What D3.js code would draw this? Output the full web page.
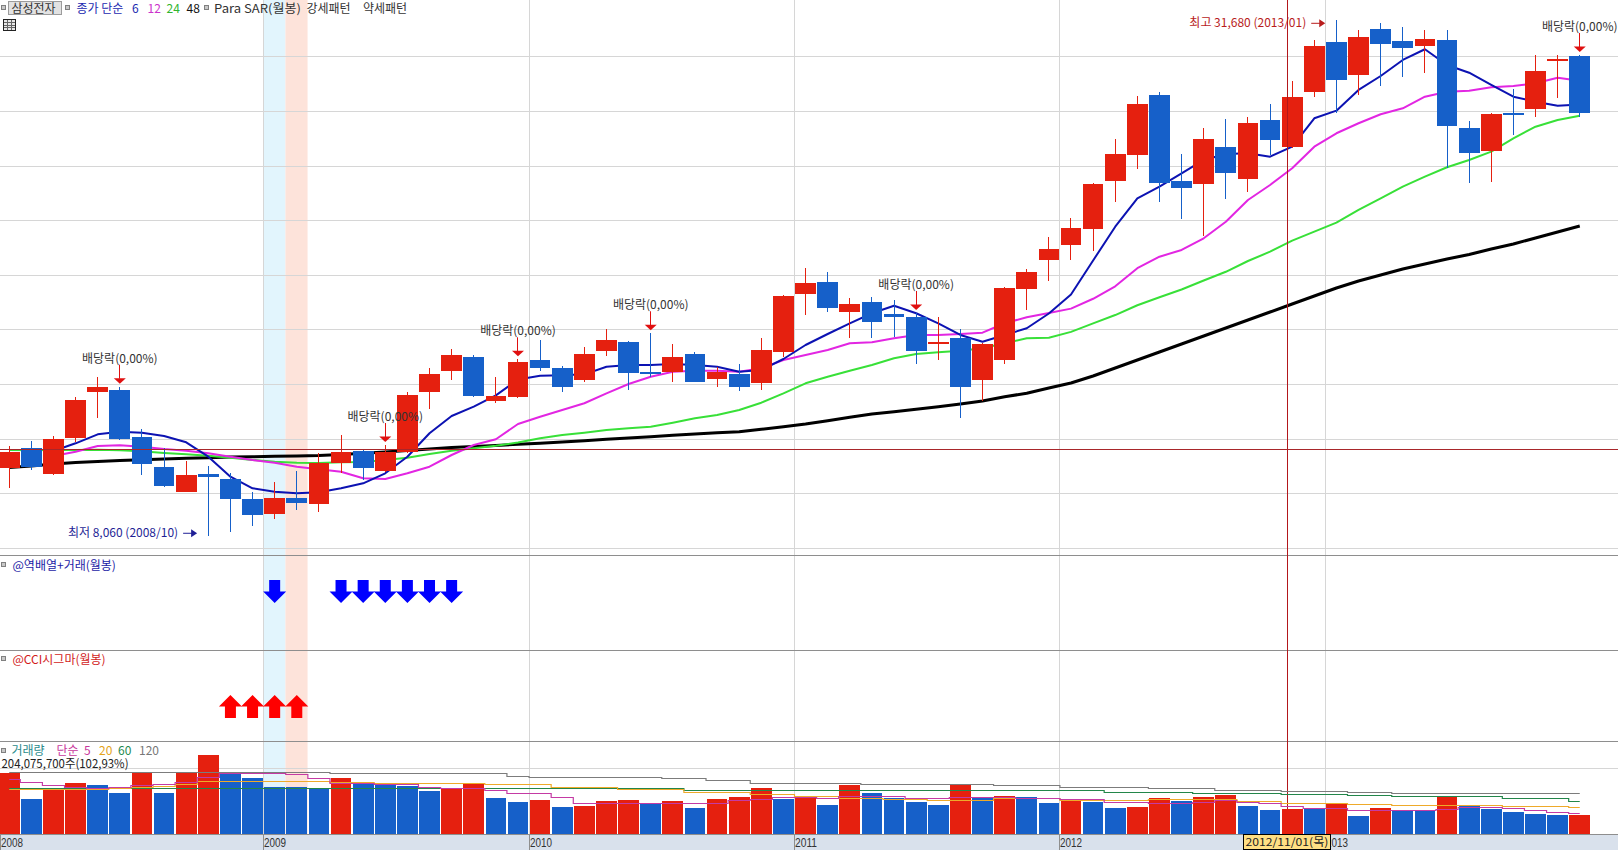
<!DOCTYPE html>
<html><head><meta charset="utf-8">
<script src="https://cdn.jsdelivr.net/npm/d3@7"></script>
<style>
body{margin:0;background:#fff;overflow:hidden}
svg{display:block}
text{font-family:"Noto Sans CJK KR","Noto Sans",sans-serif;font-size:12px}
</style>
</head><body>
<svg id="c" width="1618" height="850"></svg>
<script>
// ---------------- DATA ----------------
const years = [2008, 2009, 2010, 2011, 2012, 2013];
const months = years.flatMap(yr => d3.range(1, 13).map(m => yr + "/" + String(m).padStart(2, "0")));
const yearTicks = ["2008", "2009", "2010", "2011", "2012", "2013"];
const priceTicks = [7500, 10000, 12500, 15000, 17500, 20000, 22500, 25000, 27500, 30000];

const open  = [11167,12056,10893,12541,14647,14725,12587,11199,10069,10879,10650,9734,
               9062,9780,9519,11396,11932,11030,11872,14647,15608,16235,14235,14418,
               16098,15718,15182,16524,16908,15562,15562,16373,15228,15457,15059,16478,
               19106,19669,18282,18753,18204,18080,16830,17119,15182,16098,19362,20676,
               21376,22109,24306,25497,28230,24293,24169,25863,24398,27085,25863,28381,
               30656,29145,31251,30702,30487,30748,26733,25680,27374,27603,29786,30015];
const high  = [12161,12390,12619,14418,15333,14876,12939,12056,11474,11245,10911,10041,
               10513,11030,11827,12664,12023,12206,14619,15718,16601,16327,15306,16130,
               17013,15823,16707,17517,16945,17320,16830,16451,15791,15915,17091,19074,
               20296,20113,18922,18969,18845,18250,18053,17517,16876,19454,20250,21729,
               22599,24215,26215,28184,28367,25529,26733,27131,27237,27818,28871,30748,
               31680,31206,31512,31357,31206,31206,27053,27392,28491,30061,30061,30061];
const low   = [10224,11062,10833,12358,13456,12435,10833,10270,10041,8060,8237,8512,
               8805,9231,9126,10911,10604,10985,11827,13841,15182,14404,14143,14358,
               15608,14647,15105,16281,14725,15306,15105,15077,14876,14692,14725,16249,
               18158,18282,17091,17091,17165,15901,16098,13456,14221,15915,18387,19728,
               20676,21101,23317,24828,23317,22553,21788,23455,23803,25483,25790,28152,
               27392,28230,28641,29068,29223,24901,24187,24261,26398,27209,28106,27209];
const close = [11900,11213,12481,14267,14862,12481,11323,10343,10833,10728,9721,9016,
               9780,9565,11369,11872,11167,11872,14496,15457,16327,14450,14464,16020,
               15718,14876,16373,17013,15516,15457,16249,15105,15562,14876,16556,19028,
               19609,18465,18648,17851,18053,16524,16936,14876,16830,19408,20127,21193,
               22141,24169,25529,27818,24215,23986,26215,24645,26948,26169,28138,30473,
               28916,30898,30551,30395,30794,26824,25588,27360,27314,29328,29878,27420];

const ma6  = [null,null,11932,12284,12696,12815,12770,12619,12330,11671,10755,10224,
              10069,9995,10041,10224,10453,10911,11671,12742,13534,13960,14480,15200,
              15380,15400,15440,15791,15869,15869,15915,15869,15791,15562,15640,16144,
              16785,17288,17778,18236,18584,18236,17778,17243,16936,17243,17549,18227,
              19097,20653,22200,23500,24031,24645,25254,25529,25560,25405,25863,27163,
              27511,28459,29099,29832,30322,29603,29250,28687,28152,27923,27740,27795];
const ma12 = [null,null,11703,11900,12161,12193,12129,12023,11946,11827,11671,11520,
              11396,11213,11094,10984,10682,10650,10911,11213,11749,12207,12468,13168,
              13502,13809,14116,14573,14999,15333,15562,15608,15608,15562,15718,16098,
              16327,16556,16862,16908,17091,17242,17242,17288,17348,17778,18053,18250,
              18450,18900,19470,20300,20827,21134,21669,22429,23423,24109,24874,25863,
              26476,26934,27346,27621,28152,28381,28426,28582,28642,28765,29022,28884];
const ma24 = [11978,11964,11978,11978,11991,11964,11918,11840,11781,11717,11625,11520,
              11442,11396,11383,11415,11428,11520,11625,11795,11946,12056,12175,12321,
              12513,12664,12770,12893,12971,13044,13227,13429,13580,13809,14143,14573,
              15031,15333,15608,15869,16176,16373,16450,16524,16634,16862,17091,17119,
              17386,17774,18155,18605,18968,19323,19738,20136,20630,21056,21559,21971,
              22384,22965,23500,24032,24489,24920,25254,25634,26247,26778,27085,27282];
const ma48 = [11177,11245,11337,11405,11451,11497,11534,11566,11598,11625,11657,11671,
              11689,11703,11726,11772,11827,11886,11955,12023,12092,12138,12184,12239,
              12284,12344,12403,12468,12527,12587,12651,12710,12770,12815,12925,13044,
              13168,13319,13475,13626,13731,13841,13960,14084,14221,14418,14573,14816,
              15045,15365,15732,16098,16464,16830,17197,17563,17929,18295,18662,19028,
              19394,19714,19989,20264,20493,20722,20928,21179,21408,21683,21958,22232];

// volume in millions of shares
const volume = [655,373,494,548,523,440,655,440,666,845,659,598,
                505,503,480,598,534,523,515,459,491,534,383,340,
                362,287,297,351,362,316,351,276,373,394,491,376,
                405,308,523,440,383,340,308,526,391,405,397,333,
                354,344,279,290,380,351,397,416,297,255,265,263,
                319,190,273,247,246,397,297,265,236,212,198,204.08];
const volMa5   = [584,555,518,505,488,502,518,531,558,612,655,655,
                  655,641,595,548,548,534,534,505,494,494,469,440,
                  440,397,333,333,333,326,326,333,333,362,373,391,
                  391,380,405,405,405,380,380,391,391,391,380,380,
                  369,369,344,344,333,333,344,362,344,333,297,273,
                  273,255,255,255,255,262,284,284,273,255,233,219];
const volMa20  = [480,480,477,480,480,491,502,512,531,566,566,566,
                  566,566,561,555,555,545,545,541,541,541,539,534,
                  534,505,505,505,477,477,477,451,451,451,426,426,
                  405,405,380,380,369,369,362,362,362,380,380,380,
                  362,362,362,362,369,369,369,369,351,351,333,333,
                  333,319,319,308,308,308,308,308,297,297,297,284];
const volMa60  = [488,488,488,488,488,488,488,488,488,488,488,488,
                  488,488,488,488,488,488,488,488,488,488,488,488,
                  488,488,488,488,488,488,488,469,469,469,469,469,
                  469,469,469,469,469,469,469,469,469,469,469,469,
                  469,469,451,451,451,451,440,440,440,440,426,426,
                  426,416,416,405,405,405,405,405,383,383,383,354];
const volMa120 = [666,666,666,666,666,666,666,666,666,666,666,666,
                  666,666,666,649,649,649,649,649,649,649,649,625,
                  612,612,612,606,606,606,595,595,574,574,548,548,
                  541,541,541,534,534,534,534,534,534,523,523,523,
                  505,505,505,505,488,488,488,469,469,469,459,459,
                  459,448,448,440,440,440,440,440,434,434,434,434];

const dividendMonths = ["2008/06","2009/06","2009/12","2010/06","2011/06","2013/12"];
const downSignals = ["2009/01","2009/04","2009/05","2009/06","2009/07","2009/08","2009/09"];
const upSignals = ["2008/11","2008/12","2009/01","2009/02"];
const strongBand = "2009/01", weakBand = "2009/02";
const lowMark = {month: "2008/10", price: 8060, label: "최저 8,060 (2008/10)"};
const highMark = {month: "2013/01", price: 31680, label: "최고 31,680 (2013/01)"};
const cursor = {month: "2012/11", price: 12020, label: "2012/11/01(목)"};
const lastVolLabel = "204,075,700주(102,93%)";

// ---------------- SCALES ----------------
const svg = d3.select("#c");
const x = d3.scaleBand().domain(months).range([-1.83, -1.83 + 72 * 22.12]).paddingInner(0.064).paddingOuter(0.032);
const bw = x.bandwidth();
const cx = m => x(m) + bw / 2;
const y = d3.scaleLinear().domain([10000, 30000]).range([493.2, 56.3]);
const yV = d3.scaleLinear().domain([0, 709]).range([833.7, 767.7]);
const RED = "#e5200f", BLUE = "#1660c9";
const crisp = v => Math.round(v) + 0.5;

svg.append("rect").attr("width", 1618).attr("height", 850).attr("fill", "#fff");

// bands
svg.append("rect").attr("x", x(strongBand) - 1).attr("y", 0).attr("width", x.step()).attr("height", 834)
  .attr("fill", "#e2f5fd");
svg.append("rect").attr("x", x(weakBand) - 1).attr("y", 0).attr("width", x.step()).attr("height", 834)
  .attr("fill", "#fde3da");

// grid
const grid = svg.append("g").attr("shape-rendering", "crispEdges");
yearTicks.slice(1).forEach(t => {
  const gx = Math.floor(x(t + "/01") - 0.7) + 0.5;
  grid.append("line").attr("x1", gx).attr("x2", gx).attr("y1", 0).attr("y2", 834).attr("stroke", "#d6d6d6");
});
priceTicks.forEach(p => {
  grid.append("line").attr("x1", 0).attr("x2", 1618).attr("y1", crisp(y(p))).attr("y2", crisp(y(p))).attr("stroke", "#d6d6d6");
});
grid.append("line").attr("x1", 0).attr("x2", 1618).attr("y1", crisp(yV(709))).attr("y2", crisp(yV(709))).attr("stroke", "#d6d6d6");
[555, 650, 741].forEach(sy => grid.append("line").attr("x1", 0).attr("x2", 1618).attr("y1", sy + 0.5).attr("y2", sy + 0.5).attr("stroke", "#8e8e8e"));

// MA lines (behind candles)
const idx = d3.range(72);
const maLine = arr => d3.line().defined(i => arr[i] != null).x(i => cx(months[i])).y(i => y(arr[i]));
[[ma48, "#000", 3], [ma24, "#38e038", 2], [ma12, "#e226e2", 2], [ma6, "#0c12b2", 2]].forEach(([arr, col, w]) => {
  svg.append("path").attr("d", maLine(arr)(idx)).attr("fill", "none").attr("stroke", col).attr("stroke-width", w)
    .attr("stroke-linejoin", "round");
});

// candles
const cg = svg.append("g").attr("shape-rendering", "crispEdges");
idx.forEach(i => {
  const m = months[i], up = close[i] >= open[i], col = up ? RED : BLUE;
  const wx = Math.floor(cx(m)) + 0.5;
  cg.append("line").attr("x1", wx).attr("x2", wx).attr("y1", y(high[i])).attr("y2", y(low[i])).attr("stroke", col);
  let t = y(Math.max(open[i], close[i])), b = y(Math.min(open[i], close[i]));
  if (b - t < 2) { const mid = (t + b) / 2; t = mid - 1; b = mid + 1; }
  cg.append("rect").attr("x", x(m)).attr("y", t).attr("width", bw).attr("height", b - t).attr("fill", col);
});

// crosshair
const chx = Math.round(x(cursor.month) + 5.5) + 0.5;
svg.append("line").attr("x1", chx).attr("x2", chx).attr("y1", 0).attr("y2", 834).attr("stroke", "#b3171b").attr("shape-rendering", "crispEdges");
svg.append("line").attr("x1", 0).attr("x2", 1618).attr("y1", crisp(y(cursor.price))).attr("y2", crisp(y(cursor.price)))
  .attr("stroke", "#a8262a").attr("shape-rendering", "crispEdges");

// dividend annotations
dividendMonths.forEach(m => {
  const i = months.indexOf(m), c = cx(m), tip = y(high[i]) - 3;
  svg.append("text").attr("x", c).attr("y", tip - 21).attr("text-anchor", "middle").attr("fill", "#333").text("배당락(0,00%)");
  svg.append("line").attr("x1", Math.floor(c) + 0.5).attr("x2", Math.floor(c) + 0.5).attr("y1", tip - 19).attr("y2", tip - 5).attr("stroke", "#e01010");
  svg.append("path").attr("d", `M${c - 6},${tip - 5.5}L${c + 6},${tip - 5.5}L${c},${tip}Z`).attr("fill", "#e01010");
});

// low / high labels
function markLabel(mk, color, ay, by) {
  const tip = cx(mk.month) - 11.2;
  svg.append("text").attr("x", tip - 19).attr("y", by).attr("text-anchor", "end").attr("fill", color).text(mk.label);
  svg.append("line").attr("x1", tip - 14).attr("x2", tip - 4).attr("y1", ay).attr("y2", ay).attr("stroke", color);
  svg.append("path").attr("d", `M${tip - 6},${ay - 4}L${tip},${ay}L${tip - 6},${ay + 4}Z`).attr("fill", color);
}
markLabel(lowMark, "#1f1f96", y(lowMark.price) - 2.3, y(lowMark.price) + 1.5);
markLabel(highMark, "#b81c1c", y(highMark.price) + 3.7, y(highMark.price) + 7.5);

// signal panels
function arrow(m, dir, col) {
  const c = cx(m), hw = 11.5, sw = 5.5;
  let d;
  if (dir === "down") {
    const t = 580, s = 591.5, b = 603;
    d = `M${c - sw},${t}L${c + sw},${t}L${c + sw},${s}L${c + hw},${s}L${c},${b}L${c - hw},${s}L${c - sw},${s}Z`;
  } else {
    const t = 695, s = 706.5, b = 718;
    d = `M${c},${t}L${c + hw},${s}L${c + sw},${s}L${c + sw},${b}L${c - sw},${b}L${c - sw},${s}L${c - hw},${s}Z`;
  }
  svg.append("path").attr("d", d).attr("fill", col);
}
downSignals.forEach(m => arrow(m, "down", "#0000ff"));
upSignals.forEach(m => arrow(m, "up", "#ff0000"));

// volume bars
const vg = svg.append("g").attr("shape-rendering", "crispEdges");
idx.forEach(i => {
  const m = months[i], up = i === 0 || volume[i] > volume[i - 1];
  vg.append("rect").attr("x", x(m)).attr("y", yV(volume[i])).attr("width", bw).attr("height", yV(0) - yV(volume[i]))
    .attr("fill", up ? RED : BLUE);
});
const vLine = arr => d3.line().curve(d3.curveStep).x(i => cx(months[i])).y(i => Math.round(yV(arr[i])) + 0.5);
[[volMa120, "#7c7c7c"], [volMa60, "#23864a"], [volMa20, "#eeaa2a"], [volMa5, "#c43aa4"]].forEach(([arr, col]) => {
  svg.append("path").attr("d", vLine(arr)(idx)).attr("fill", "none").attr("stroke", col).attr("stroke-width", 1.2);
});

// x axis band
svg.append("rect").attr("x", 0).attr("y", 834).attr("width", 1618).attr("height", 16).attr("fill", "#d9e1ec");
svg.append("line").attr("x1", 0).attr("x2", 1618).attr("y1", 834.5).attr("y2", 834.5).attr("stroke", "#8e8e8e");
yearTicks.forEach((t, k) => {
  const gx = k === 0 ? 0.5 : Math.floor(x(t + "/01") - 0.7) + 0.5;
  svg.append("line").attr("x1", gx).attr("x2", gx).attr("y1", 834).attr("y2", 850).attr("stroke", "#8e8e8e");
  svg.append("text").attr("x", gx + 0.5).attr("y", 846.5).attr("fill", "#333").attr("textLength", 22)
    .attr("lengthAdjust", "spacingAndGlyphs").style("font-family", "'Liberation Sans', Arial, sans-serif")
    .style("font-size", "12px").text(t);
});
const bx = chx - 44;
svg.append("rect").attr("x", bx).attr("y", 834.5).attr("width", 87).attr("height", 15).attr("fill", "#ffdf84").attr("stroke", "#000");
svg.append("text").attr("x", bx + 2).attr("y", 846).attr("fill", "#222").attr("textLength", 83)
  .attr("lengthAdjust", "spacingAndGlyphs").style("font-size", "11px").text(cursor.label);

// headers
function bullet(bxp, byp) {
  svg.append("rect").attr("x", bxp + 0.5).attr("y", byp + 0.5).attr("width", 4).attr("height", 4)
    .attr("fill", "#c8c8c8").attr("stroke", "#808080").attr("shape-rendering", "crispEdges");
}
function txt(tx, ty, s, col, len) {
  const t = svg.append("text").attr("x", tx).attr("y", ty).attr("fill", col).text(s);
  if (len) t.attr("textLength", len).attr("lengthAdjust", "spacingAndGlyphs");
  return t;
}
bullet(1, 5);
svg.append("rect").attr("x", 8.5).attr("y", 1.5).attr("width", 53).attr("height", 13).attr("fill", "#e2e2e2").attr("stroke", "#9c9c9c").attr("shape-rendering", "crispEdges");
txt(11.5, 12.5, "삼성전자", "#333");
bullet(65, 5);
txt(76.5, 12.5, "종가 단순", "#1b2ab0");
txt(132, 12.5, "6", "#1b2ab0");
txt(147.5, 12.5, "12", "#cc33cc");
txt(166.5, 12.5, "24", "#2fb52f");
txt(186.5, 12.5, "48", "#111");
bullet(203.5, 5);
txt(214, 12.5, "Para SAR(월봉)", "#333", 87);
txt(306.5, 12.5, "강세패턴", "#333");
txt(363, 12.5, "약세패턴", "#333");
// table icon
const ti = svg.append("g").attr("shape-rendering", "crispEdges");
ti.append("rect").attr("x", 3.5).attr("y", 19.5).attr("width", 12).attr("height", 11).attr("fill", "#e8e8e8").attr("stroke", "#222");
[7.5, 11.5].forEach(lx => ti.append("line").attr("x1", lx).attr("x2", lx).attr("y1", 20).attr("y2", 30).attr("stroke", "#666"));
[22.5, 25.5, 27.5].forEach(ly => ti.append("line").attr("x1", 4).attr("x2", 15).attr("y1", ly).attr("y2", ly).attr("stroke", "#666"));

bullet(1, 562);
txt(12.5, 569.5, "@역배열+거래(월봉)", "#1c1ca6");
bullet(1, 656);
txt(12.5, 663.5, "@CCI시그마(월봉)", "#d21a1a");

bullet(1, 748);
txt(11.5, 754.5, "거래량", "#2b8b8b");
txt(56.5, 754.5, "단순", "#c8389c");
txt(84, 754.5, "5", "#c8389c");
txt(99, 754.5, "20", "#e4a31a");
txt(118, 754.5, "60", "#1f8a4f");
txt(139, 754.5, "120", "#777");
txt(1.5, 767.5, lastVolLabel, "#222", 127);
</script>
</body></html>
